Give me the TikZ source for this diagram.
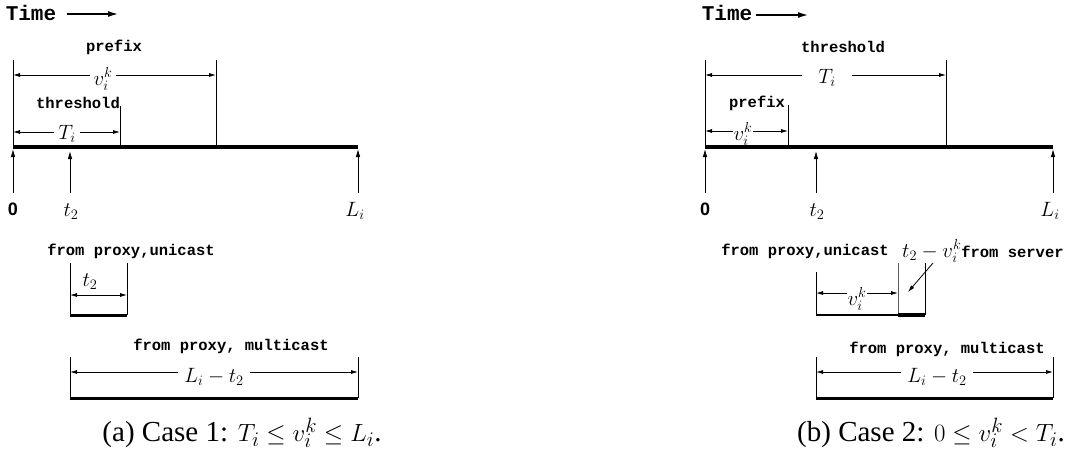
\documentclass[tikz,border=0pt]{standalone}
\usepackage{fontspec}
\setmainfont{Liberation Serif}
\setmonofont{Liberation Mono}
\setsansfont{Liberation Sans}
\usetikzlibrary{arrows.meta}
\begin{document}
\begin{tikzpicture}[x=1pt,y=-1pt,
  tt/.style={font=\fontsize{15.5}{17}\selectfont\ttfamily\bfseries, inner sep=0pt},
  timef/.style={font=\fontsize{21}{23}\selectfont\ttfamily\bfseries, inner sep=0pt},
  zero/.style={font=\fontsize{18}{20}\selectfont\sffamily\bfseries, inner sep=0pt},
  ml/.style={font=\fontsize{20}{22}\selectfont, inner sep=1pt},
  bigml/.style={font=\fontsize{22}{24}\selectfont, inner sep=0pt},
  mlw/.style={ml, fill=white},
  captext/.style={font=\fontsize{29}{31}\selectfont, inner sep=0pt},
  thin line/.style={line width=0.8pt},
  dim/.style={line width=0.8pt, {Latex[length=7pt,width=4pt]}-{Latex[length=7pt,width=4pt]}},
  uparr/.style={line width=0.8pt, -{Latex[length=8pt,width=4.5pt]}},
  base/.style={line width=3.5pt},
  bar/.style={line width=3pt},
  timearr/.style={line width=1.3pt, -{Latex[length=10pt,width=6pt]}}]
\useasboundingbox (0,0) rectangle (1073,455);

% ================= (a) =================
\node[timef] (aTime) at (31,13) {Time};
\coordinate (aTs) at (67,14); \coordinate (aTe) at (118,14);
\draw[timearr] (aTs) -- (aTe);

\coordinate (a0t) at (13,60);  \coordinate (a0) at (13,147);
\coordinate (aPt) at (216,60); \coordinate (aP) at (216,147);
\coordinate (aHt) at (120,106);\coordinate (aH) at (120,147);
\coordinate (aL) at (358,147);
\draw[thin line] (a0t) -- (a0);
\draw[thin line] (aPt) -- (aP);
\draw[thin line] (aHt) -- (aH);

\node[tt] (aPrefix) at (114,47) {prefix};
\coordinate (aV1) at (13,75); \coordinate (aV2) at (216,75);
\draw[dim] (aV1) -- (aV2);
\node[mlw, inner xsep=4pt] (aVl) at (103,79) {$v_i^{k}$};

\node[tt] (aThr) at (78,103) {threshold};
\coordinate (aT1) at (13,132); \coordinate (aT2) at (120,132);
\draw[dim] (aT1) -- (aT2);
\node[mlw, inner xsep=4pt] (aTl) at (67,134) {$T_i$};

\draw[base] (a0) -- (aL);

\coordinate (aU0) at (13,193);  \coordinate (aU0e) at (13,149);
\coordinate (aUt) at (70,193);  \coordinate (aUte) at (70,151);
\coordinate (aUL) at (358,193); \coordinate (aULe) at (358,149);
\draw[uparr] (aU0) -- (aU0e);
\draw[uparr] (aUt) -- (aUte);
\draw[uparr] (aUL) -- (aULe);
\node[zero] (a0l) at (13,209) {0};
\node[bigml] (at2l) at (71,212) {$t_2$};
\node[bigml] (aLl) at (355,211) {$L_i$};

\node[tt] (aUni) at (131,251) {from proxy,unicast};
\coordinate (aB1a) at (70,263); \coordinate (aB1b) at (70,315);
\coordinate (aB1c) at (127,263); \coordinate (aB1d) at (127,315);
\draw[thin line] (aB1a) -- (aB1b);
\draw[thin line] (aB1c) -- (aB1d);
\coordinate (aD1) at (70,295); \coordinate (aD2) at (127,295);
\draw[dim] (aD1) -- (aD2);
\node[ml] (at2b) at (90,282) {$t_2$};
\draw[bar] (aB1b) -- (aB1d);

\node[tt] (aMul) at (231,346) {from proxy, multicast};
\coordinate (aB2a) at (70,357); \coordinate (aB2b) at (70,398);
\coordinate (aB2c) at (358,357); \coordinate (aB2d) at (358,398);
\draw[thin line] (aB2a) -- (aB2b);
\draw[thin line] (aB2c) -- (aB2d);
\coordinate (aE1) at (70,372); \coordinate (aE2) at (358,372);
\draw[dim] (aE1) -- (aE2);
\node[mlw, inner xsep=6pt] (aLt) at (214,377) {$L_i - t_2$};
\draw[bar] (aB2b) -- (aB2d);

\node[captext] (aCap) at (242,433) {(a) Case 1: $T_i \le v_i^k \le L_i$.};

% ================= (b) =================
\node[timef] (bTime) at (727,13) {Time};
\coordinate (bTs) at (756,15); \coordinate (bTe) at (808,15);
\draw[timearr] (bTs) -- (bTe);

\coordinate (b0t) at (705,60);  \coordinate (b0) at (705,147);
\coordinate (bHt) at (946,60);  \coordinate (bH) at (946,147);
\coordinate (bPt) at (788,105); \coordinate (bP) at (788,147);
\coordinate (bL) at (1053,147);
\draw[thin line] (b0t) -- (b0);
\draw[thin line] (bHt) -- (bH);
\draw[thin line] (bPt) -- (bP);

\node[tt] (bThr) at (843,47) {threshold};
\coordinate (bT1) at (705,75); \coordinate (bT2) at (946,75);
\draw[dim] (bT1) -- (bT2);
\node[mlw, inner xsep=16pt] (bTl) at (827,78) {$T_i$};

\node[tt] (bPrefix) at (757,103) {prefix};
\coordinate (bV1) at (705,131); \coordinate (bV2) at (788,131);
\draw[dim] (bV1) -- (bV2);
\node[mlw] (bVl) at (743,134) {$v_i^{k}$};

\draw[base] (b0) -- (bL);

\coordinate (bU0) at (705,193);  \coordinate (bU0e) at (705,149);
\coordinate (bUt) at (816,193);  \coordinate (bUte) at (816,151);
\coordinate (bUL) at (1053,193); \coordinate (bULe) at (1053,149);
\draw[uparr] (bU0) -- (bU0e);
\draw[uparr] (bUt) -- (bUte);
\draw[uparr] (bUL) -- (bULe);
\node[zero] (b0l) at (705,209) {0};
\node[bigml] (bt2l) at (817,212) {$t_2$};
\node[bigml] (bLl) at (1050,211) {$L_i$};

\node[tt] (bUni) at (805,251) {from proxy,unicast};
\node[anchor=base west, inner sep=0pt, font=\fontsize{20}{22}\selectfont] (bSrv) at (902,257) {$t_2 - v_i^k$\ttfamily\bfseries\fontsize{15.5}{17}\selectfont from server};

\coordinate (bB1a) at (816,272); \coordinate (bB1b) at (816,315);
\coordinate (bB1m) at (898,263); \coordinate (bB1n) at (898,315);
\coordinate (bB1c) at (925,263); \coordinate (bB1d) at (925,315);
\draw[thin line] (bB1a) -- (bB1b);
\draw[thin line, gray!70!black] (bB1m) -- (bB1n);
\draw[thin line] (bB1c) -- (bB1d);
\coordinate (bD1) at (816,293); \coordinate (bD2) at (898,293);
\draw[dim] (bD1) -- (bD2);
\node[mlw, inner sep=0.5pt] (bVb) at (857,299) {$v_i^{k}$};
\draw[line width=2.5pt] (bB1b) -- (bB1n);
\draw[line width=4pt] (bB1n) -- (bB1d);
\coordinate (bPa) at (933,263); \coordinate (bPb) at (908,292);
\draw[line width=0.8pt, -{Latex[length=7pt,width=4pt]}] (bPa) -- (bPb);

\node[tt] (bMul) at (947,349) {from proxy, multicast};
\coordinate (bB2a) at (816,357); \coordinate (bB2b) at (816,398);
\coordinate (bB2c) at (1053,357); \coordinate (bB2d) at (1053,398);
\draw[thin line] (bB2a) -- (bB2b);
\draw[thin line] (bB2c) -- (bB2d);
\coordinate (bE1) at (816,372); \coordinate (bE2) at (1053,372);
\draw[dim] (bE1) -- (bE2);
\node[mlw, inner xsep=6pt] (bLt) at (937,377) {$L_i - t_2$};
\draw[bar] (bB2b) -- (bB2d);

\node[captext] (bCap) at (931,433) {(b) Case 2: $0 \le v_i^k < T_i$.};
\end{tikzpicture}
\end{document}
